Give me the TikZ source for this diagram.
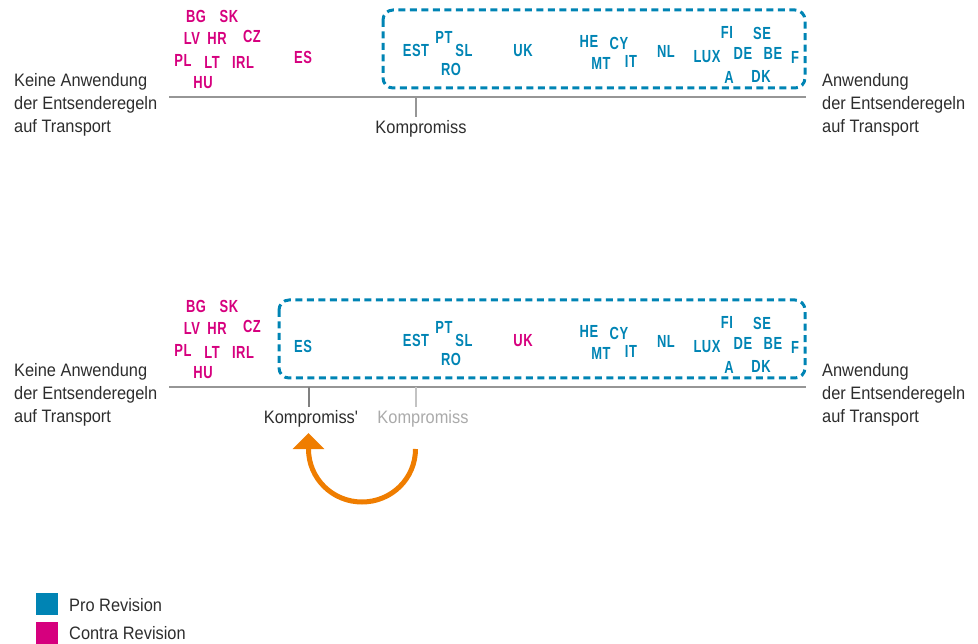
\documentclass[tikz,border=0pt]{standalone}
\usepackage{fontspec}
\setmainfont{Liberation Sans}[FakeStretch=0.91]
\newfontfamily\ctryfont{Liberation Sans}[FakeStretch=0.74, LetterSpace=3]
\newfontfamily\plainfont{Liberation Sans}[FakeStretch=0.91, Ligatures=TeXOff]
\usetikzlibrary{arrows.meta}
\definecolor{problue}{RGB}{0,132,180}
\definecolor{conmag}{RGB}{214,0,126}
\definecolor{arrorange}{RGB}{239,125,0}
\definecolor{axisgray}{RGB}{150,150,150}
\definecolor{txtdark}{RGB}{45,45,45}
\definecolor{txtlight}{RGB}{170,170,170}
\tikzset{
  pro/.style={text=problue, font=\ctryfont\bfseries\fontsize{17.5}{18}\selectfont, inner sep=0pt, anchor=center},
  con/.style={text=conmag, font=\ctryfont\bfseries\fontsize{17.5}{18}\selectfont, inner sep=0pt, anchor=center},
  endlabel/.style={text=txtdark, font=\fontsize{18}{23}\selectfont, align=left, inner sep=0pt, anchor=north west},
  komp/.style={text=txtdark, font=\plainfont\fontsize{18}{22}\selectfont, inner sep=0pt, anchor=center},
  axisline/.style={draw=axisgray, line width=1.3pt},
  tickline/.style={draw=axisgray, line width=1.2pt},
  groupbox/.style={draw=problue, line width=3pt, dash pattern=on 7pt off 4.5pt, rounded corners=10pt},
  legtext/.style={text=txtdark, font=\fontsize{18}{22}\selectfont, inner sep=0pt, anchor=west}
}
\begin{document}
\begin{tikzpicture}[x=1pt,y=-1pt]
\useasboundingbox (0,0) rectangle (978,644);
% ---------- top panel ----------
\draw[groupbox] (383,10) rectangle (805,88);
\coordinate (l1a) at (169,97);
\coordinate (l1b) at (806,97);
\draw[axisline] (l1a) -- (l1b);
\node[endlabel] (left1) at (14,73) {Keine Anwendung\\der Entsenderegeln\\auf Transport};
\node[endlabel] (right1) at (822,73) {Anwendung\\der Entsenderegeln\\auf Transport};
\coordinate (t1) at (416,97);
\coordinate (t1e) at (416,117);
\draw[tickline] (t1) -- (t1e);
\node[komp] (k1) at (421,129) {Kompromiss};
% contra
\node[con] (bg1) at (196,16) {BG};
\node[con] (sk1) at (229,16) {SK};
\node[con] (lv1) at (192,38) {LV};
\node[con] (hr1) at (217,38) {HR};
\node[con] (cz1) at (252,36) {CZ};
\node[con] (pl1) at (183,60) {PL};
\node[con] (lt1) at (212,62) {LT};
\node[con] (irl1) at (243,62) {IRL};
\node[con] (hu1) at (203,83) {HU};
\node[con] (es1) at (303,57) {ES};
% pro
\node[pro] (est1) at (416,50) {EST};
\node[pro] (pt1) at (444,37) {PT};
\node[pro] (sl1) at (464,50) {SL};
\node[pro] (ro1) at (451,69) {RO};
\node[pro] (uk1) at (523,51) {UK};
\node[pro] (he1) at (589,41) {HE};
\node[pro] (cy1) at (619,43) {CY};
\node[pro] (mt1) at (601,63) {MT};
\node[pro] (it1) at (631,61) {IT};
\node[pro] (nl1) at (666,51) {NL};
\node[pro] (fi1) at (727,32) {FI};
\node[pro] (se1) at (762,33) {SE};
\node[pro] (lux1) at (707,57) {LUX};
\node[pro] (de1) at (743,53) {DE};
\node[pro] (be1) at (773,53) {BE};
\node[pro] (f1) at (795,57) {F};
\node[pro] (a1) at (729,77) {A};
\node[pro] (dk1) at (761,76) {DK};
% ---------- bottom panel ----------
\draw[groupbox] (279,300) rectangle (805,378);
\coordinate (l2a) at (169,387);
\coordinate (l2b) at (806,387);
\draw[axisline] (l2a) -- (l2b);
\node[endlabel] (left2) at (14,363) {Keine Anwendung\\der Entsenderegeln\\auf Transport};
\node[endlabel] (right2) at (822,363) {Anwendung\\der Entsenderegeln\\auf Transport};
\coordinate (t2) at (309,387);
\coordinate (t2e) at (309,407);
\draw[tickline, draw=gray] (t2) -- (t2e);
\coordinate (t3) at (416,387);
\coordinate (t3e) at (416,407);
\draw[tickline, draw=txtlight!70] (t3) -- (t3e);
\node[komp] (k2) at (311,419) {Kompromiss'};
\node[komp, text=txtlight] (k3) at (423,419) {Kompromiss};
% contra
\node[con] (bg2) at (196,306) {BG};
\node[con] (sk2) at (229,306) {SK};
\node[con] (lv2) at (192,328) {LV};
\node[con] (hr2) at (217,328) {HR};
\node[con] (cz2) at (252,326) {CZ};
\node[con] (pl2) at (183,350) {PL};
\node[con] (lt2) at (212,352) {LT};
\node[con] (irl2) at (243,352) {IRL};
\node[con] (hu2) at (203,373) {HU};
\node[con] (uk2) at (523,341) {UK};
% pro
\node[pro] (es2) at (303,346) {ES};
\node[pro] (est2) at (416,340) {EST};
\node[pro] (pt2) at (444,327) {PT};
\node[pro] (sl2) at (464,340) {SL};
\node[pro] (ro2) at (451,359) {RO};
\node[pro] (he2) at (589,331) {HE};
\node[pro] (cy2) at (619,333) {CY};
\node[pro] (mt2) at (601,353) {MT};
\node[pro] (it2) at (631,351) {IT};
\node[pro] (nl2) at (666,341) {NL};
\node[pro] (fi2) at (727,322) {FI};
\node[pro] (se2) at (762,323) {SE};
\node[pro] (lux2) at (707,347) {LUX};
\node[pro] (de2) at (743,343) {DE};
\node[pro] (be2) at (773,343) {BE};
\node[pro] (f2) at (795,347) {F};
\node[pro] (a2) at (729,367) {A};
\node[pro] (dk2) at (761,366) {DK};
% orange arrow
\coordinate (as) at (415.5,449);
\coordinate (am) at (362,502);
\coordinate (ab) at (308.5,449);
\coordinate (ae) at (308.5,433);
\draw[draw=arrorange, line width=5pt, -{Triangle[width=31pt,length=16pt]}]
  (as) .. controls (415.5,478.5) and (391.5,502) .. (am)
       .. controls (332.5,502) and (308.5,478.5) .. (ab) -- (ae);
% legend
\fill[problue] (36,593) rectangle (58,615);
\fill[conmag] (36,622) rectangle (58,644);
\node[legtext] (lpro) at (69,605) {Pro Revision};
\node[legtext] (lcon) at (69,633) {Contra Revision};
\end{tikzpicture}
\end{document}
